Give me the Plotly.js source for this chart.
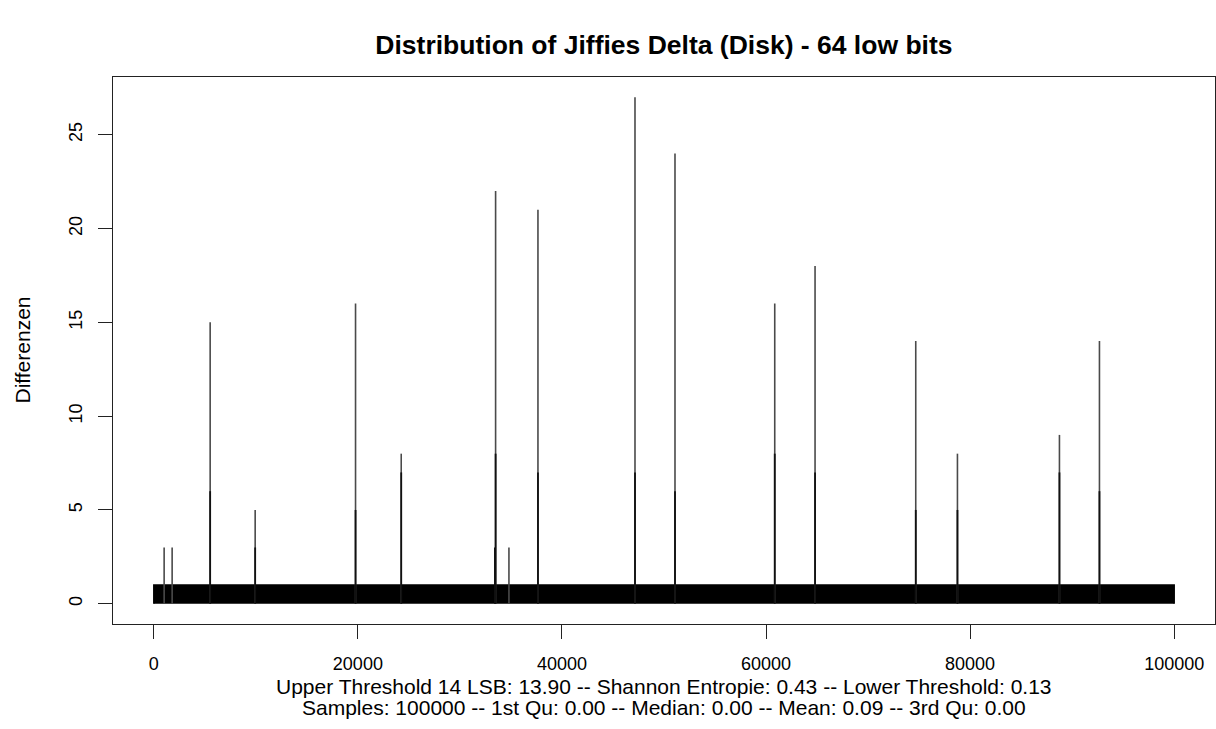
<!DOCTYPE html>
<html>
<head>
<meta charset="utf-8">
<script src="https://cdn.plot.ly/plotly-3.0.1.min.js"></script>
<style>html,body{margin:0;padding:0;background:#fff;}#chart{width:1216px;height:729px;}</style>
</head>
<body>
<div id="chart"></div>
<script>
// ---- data ----
const sampleFirst = 1;
const sampleLast = 100000;
const baseValue = 1;              // the dense 0/1 band of all samples
// tall single samples (index, Differenzen)
const spikeIndex = [1013, 1797, 5523, 9934, 19771, 24248, 33497, 34804, 37647, 47157, 51078, 60853, 64804, 74673, 78758, 88755, 92676];
const spikeValue = [3, 3, 15, 5, 16, 8, 22, 3, 21, 27, 24, 16, 18, 14, 8, 9, 14];
// neighbouring smaller samples that overlap the tall ones
const nearIndex = [5524, 9935, 19772, 24249, 33431, 33498, 37648, 47158, 51079, 60854, 64805, 74674, 78759, 88756, 92677];
const nearValue = [6, 3, 5, 7, 3, 8, 7, 7, 6, 8, 7, 5, 5, 7, 6];
const xTicks = [0, 20000, 40000, 60000, 80000, 100000];
const yTicks = [0, 5, 10, 15, 20, 25];
const titleText = "Distribution of Jiffies Delta (Disk) - 64 low bits";
const yLabel = "Differenzen";
const subLine1 = "Upper Threshold 14 LSB: 13.90 -- Shannon Entropie: 0.43 -- Lower Threshold: 0.13";
const subLine2 = "Samples: 100000 -- 1st Qu: 0.00 -- Median: 0.00 -- Mean: 0.09 -- 3rd Qu: 0.00";

function segs(xs, ys) {
  const X = [], Y = [];
  for (let i = 0; i < xs.length; i++) { X.push(xs[i], xs[i], null); Y.push(0, ys[i], null); }
  return {X, Y};
}
const s1 = segs(spikeIndex, spikeValue);
const s2 = segs(nearIndex, nearValue);

const xMaxData = sampleLast, xMinData = sampleFirst;
const yMaxData = Math.max(...spikeValue);
const xPad = 0.04 * (xMaxData - xMinData), yPad = 0.04 * yMaxData;

const font = "Liberation Sans, Arial, sans-serif";

const traces = [
  {x: [sampleFirst, sampleFirst, sampleLast, sampleLast], y: [0, baseValue, baseValue, 0],
   type: 'scatter', mode: 'lines', fill: 'toself', fillcolor: '#000',
   line: {color: '#000', width: 1.5}, hoverinfo: 'skip'},
  {x: s1.X, y: s1.Y, type: 'scatter', mode: 'lines', line: {color: '#4a4a4a', width: 1.6}, hoverinfo: 'skip'},
  {x: s2.X, y: s2.Y, type: 'scatter', mode: 'lines', line: {color: '#111', width: 1.8}, hoverinfo: 'skip'}
];

const layout = {
  width: 1216, height: 729,
  margin: {l: 113, r: 1, t: 77, b: 105},
  paper_bgcolor: '#fff', plot_bgcolor: '#fff',
  showlegend: false,
  font: {family: font, color: '#000', size: 20},
  title: {text: '<b>' + titleText + '</b>', font: {family: font, size: 26.5, color: '#000'},
          x: 0.546, xanchor: 'center', y: 1 - 45 / 729, yanchor: 'middle', yref: 'container'},
  xaxis: {range: [xMinData - xPad, xMaxData + xPad], tickvals: xTicks, ticktext: xTicks.map(String),
          ticks: 'outside', ticklen: 14, tickwidth: 1, tickcolor: '#222',
          showline: true, linecolor: '#222', linewidth: 1, mirror: true,
          showgrid: false, zeroline: false, ticklabelstandoff: 9,
          tickfont: {family: font, size: 18, color: '#000'}},
  yaxis: {range: [-yPad, yMaxData + yPad], tickvals: yTicks, ticktext: yTicks.map(String),
          ticks: 'outside', ticklen: 14, tickwidth: 1, tickcolor: '#222', tickangle: -90,
          showline: true, linecolor: '#222', linewidth: 1, mirror: true,
          showgrid: false, zeroline: false, ticklabelstandoff: 9,
          tickfont: {family: font, size: 18, color: '#000'}},
  annotations: [
    {text: yLabel, xref: 'paper', yref: 'paper', x: (22 - 113) / 1102, y: 0.5, textangle: -90,
     showarrow: false, xanchor: 'center', yanchor: 'middle', font: {family: font, size: 21, color: '#000'}},
    {text: subLine1, xref: 'paper', yref: 'paper', x: 0.5, y: (624 - 686) / 547,
     showarrow: false, xanchor: 'center', yanchor: 'middle', font: {family: font, size: 21, color: '#000'}},
    {text: subLine2, xref: 'paper', yref: 'paper', x: 0.5, y: (624 - 707) / 547,
     showarrow: false, xanchor: 'center', yanchor: 'middle', font: {family: font, size: 21, color: '#000'}}
  ]
};

Plotly.newPlot('chart', traces, layout, {staticPlot: true, displayModeBar: false});
</script>
</body>
</html>
